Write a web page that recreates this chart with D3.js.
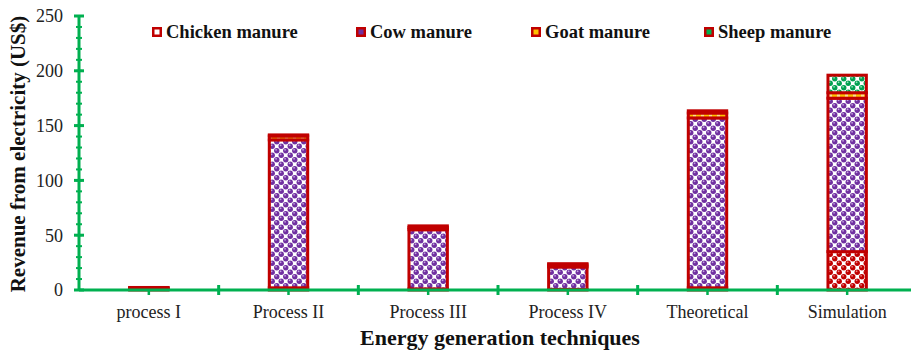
<!DOCTYPE html>
<html>
<head>
<meta charset="utf-8">
<script src="https://cdn.jsdelivr.net/npm/d3@7"></script>
<style>
  html, body { margin: 0; padding: 0; background: #fff; }
  svg { display: block; font-family: "Liberation Serif", "Times New Roman", serif; }
</style>
</head>
<body>
<svg id="chart" width="911" height="353"></svg>
<script>
// Revenue from electricity by energy generation technique, stacked by manure type
const categories = ["process I", "Process II", "Process III", "Process IV", "Theoretical", "Simulation"];
const seriesNames = ["Chicken manure", "Cow manure", "Goat manure", "Sheep manure"];
const chicken = [0.5, 2, 1, 0.5, 2, 35];
const cow     = [1.0, 135, 54, 20.5, 155, 140];
const goat    = [0.5, 3.5, 2, 2, 4.5, 5];
const sheep   = [0.3, 1, 1.5, 1, 2, 16];
const yTicks  = [0, 50, 100, 150, 200, 250];

const seriesValues = [chicken, cow, goat, sheep];
const patternIds = ["pChicken", "pCow", "pGoat", "pSheep"];

const svg = d3.select("#chart");
const margin = { left: 79, right: -6, top: 16, bottom: 63 };
const W = 911, H = 353;

const x = d3.scaleBand().domain(categories).range([margin.left, W - margin.right]).paddingInner(0.725).paddingOuter(0.3625);
const xOuter = d3.scaleBand().domain(categories).range([margin.left, W - margin.right]);
const y = d3.scaleLinear().domain([0, 250]).range([H - margin.bottom, margin.top]);

// ---- fill patterns: shaded spheres on a checker grid ----
const defs = svg.append("defs");
const P = 9;
function spherePattern(id, color, light) {
  const g = defs.append("radialGradient").attr("id", id + "g").attr("cx", "38%").attr("cy", "32%").attr("r", "70%");
  g.append("stop").attr("offset", "0%").attr("stop-color", light);
  g.append("stop").attr("offset", "35%").attr("stop-color", color);
  g.append("stop").attr("offset", "100%").attr("stop-color", color);
  const p = defs.append("pattern").attr("id", id).attr("patternUnits", "userSpaceOnUse")
    .attr("width", P).attr("height", P);
  p.append("rect").attr("width", P).attr("height", P).attr("fill", "#fff");
  const a = P / 4, b = 3 * P / 4;
  [[a, a], [b, b], [b - P, b], [b, b - P], [b - P, b - P], [a + P, a], [a, a + P], [a + P, a + P]].forEach(([cx, cy]) => {
    p.append("circle").attr("cx", cx).attr("cy", cy).attr("r", 2.7).attr("fill", `url(#${id}g)`);
  });
}
spherePattern("pChicken", "#C00000", "#f4a0a0");
spherePattern("pCow", "#7030A0", "#d8c0ee");
spherePattern("pSheep", "#00A050", "#b0f0cc");
(function () {
  const p = defs.append("pattern").attr("id", "pGoat").attr("patternUnits", "userSpaceOnUse")
    .attr("width", 8).attr("height", 8);
  p.append("rect").attr("width", 8).attr("height", 8).attr("fill", "#FFC000");
  p.append("rect").attr("x", 5).attr("width", 3).attr("height", 8).attr("fill", "#FFE08a");
})();

// ---- stacked bars ----
const rows = categories.map((c, i) => {
  const r = { cat: c };
  seriesNames.forEach((s, k) => r[s] = seriesValues[k][i]);
  return r;
});
const stacked = d3.stack().keys(seriesNames)(rows);

svg.append("g").selectAll("g").data(stacked).join("g")
  .attr("fill", (d, k) => `url(#${patternIds[k]})`)
  .selectAll("rect").data(d => d).join("rect")
  .attr("x", d => x(d.data.cat))
  .attr("width", x.bandwidth())
  .attr("y", d => y(d[1]))
  .attr("height", d => Math.max(0, y(d[0]) - y(d[1])))
  .attr("stroke", "#C00000")
  .attr("stroke-width", 3);

// ---- axes ----
const green = "#00B050";
const axisG = svg.append("g");
// y axis line
axisG.append("line").attr("x1", margin.left).attr("x2", margin.left)
  .attr("y1", y(250)).attr("y2", y(0)).attr("stroke", green).attr("stroke-width", 3);
// y minor ticks
axisG.selectAll(".ymin").data(d3.range(0, 251, 10)).join("line")
  .attr("x1", margin.left - 3).attr("x2", margin.left + 3)
  .attr("y1", d => y(d)).attr("y2", d => y(d))
  .attr("stroke", green).attr("stroke-width", 2);
// y major ticks
axisG.selectAll(".ymaj").data(yTicks).join("line")
  .attr("x1", margin.left - 5).attr("x2", margin.left + 5)
  .attr("y1", d => y(d)).attr("y2", d => y(d))
  .attr("stroke", green).attr("stroke-width", 3);
// y tick labels
svg.append("g").selectAll("text").data(yTicks).join("text")
  .attr("x", margin.left - 16).attr("y", d => y(d)).attr("dy", "0.35em")
  .attr("text-anchor", "end").attr("font-size", 18).attr("fill", "#222")
  .text(d => d);

// x axis line
axisG.append("line").attr("x1", margin.left).attr("x2", W)
  .attr("y1", y(0)).attr("y2", y(0)).attr("stroke", green).attr("stroke-width", 3);
// x major ticks at category boundaries
axisG.selectAll(".xmaj").data(categories.slice(1)).join("line")
  .attr("x1", d => xOuter(d)).attr("x2", d => xOuter(d))
  .attr("y1", y(0) - 5).attr("y2", y(0) + 5)
  .attr("stroke", green).attr("stroke-width", 3);
// x minor ticks at category centres
axisG.selectAll(".xmin").data(categories).join("line")
  .attr("x1", d => xOuter(d) + xOuter.bandwidth() / 2).attr("x2", d => xOuter(d) + xOuter.bandwidth() / 2)
  .attr("y1", y(0)).attr("y2", y(0) + 5)
  .attr("stroke", green).attr("stroke-width", 2.5);
// x tick labels
svg.append("g").selectAll("text").data(categories).join("text")
  .attr("x", d => xOuter(d) + xOuter.bandwidth() / 2).attr("y", 318)
  .attr("text-anchor", "middle").attr("font-size", 18).attr("fill", "#222")
  .text(d => d);

// axis titles
svg.append("text").attr("x", 500).attr("y", 345).attr("text-anchor", "middle")
  .attr("font-size", 22).attr("font-weight", "bold").attr("fill", "#111")
  .text("Energy generation techniques");
svg.append("text").attr("transform", `translate(25,${(y(0) + y(250)) / 2 + 1}) rotate(-90)`)
  .attr("text-anchor", "middle").attr("font-size", 21).attr("font-weight", "bold").attr("fill", "#111")
  .text("Revenue from electricity (US$)");

// ---- legend ----
const legendX = [152, 356, 531, 704];
const leg = svg.append("g").selectAll("g").data(seriesNames).join("g")
  .attr("transform", (d, i) => `translate(${legendX[i]},32)`);
leg.append("rect").attr("x", 0).attr("y", -5).attr("width", 10).attr("height", 10)
  .attr("fill", "#C00000");
leg.append("rect").attr("x", 2.5).attr("y", -2.5).attr("width", 5).attr("height", 5)
  .attr("fill", (d, i) => ["#fff", "#7030A0", "#FFC000", "#00B050"][i]);
leg.append("text").attr("x", 14).attr("dy", "0.35em").attr("font-size", 18.5)
  .attr("font-weight", "bold").attr("fill", "#111").text(d => d);
</script>
</body>
</html>
